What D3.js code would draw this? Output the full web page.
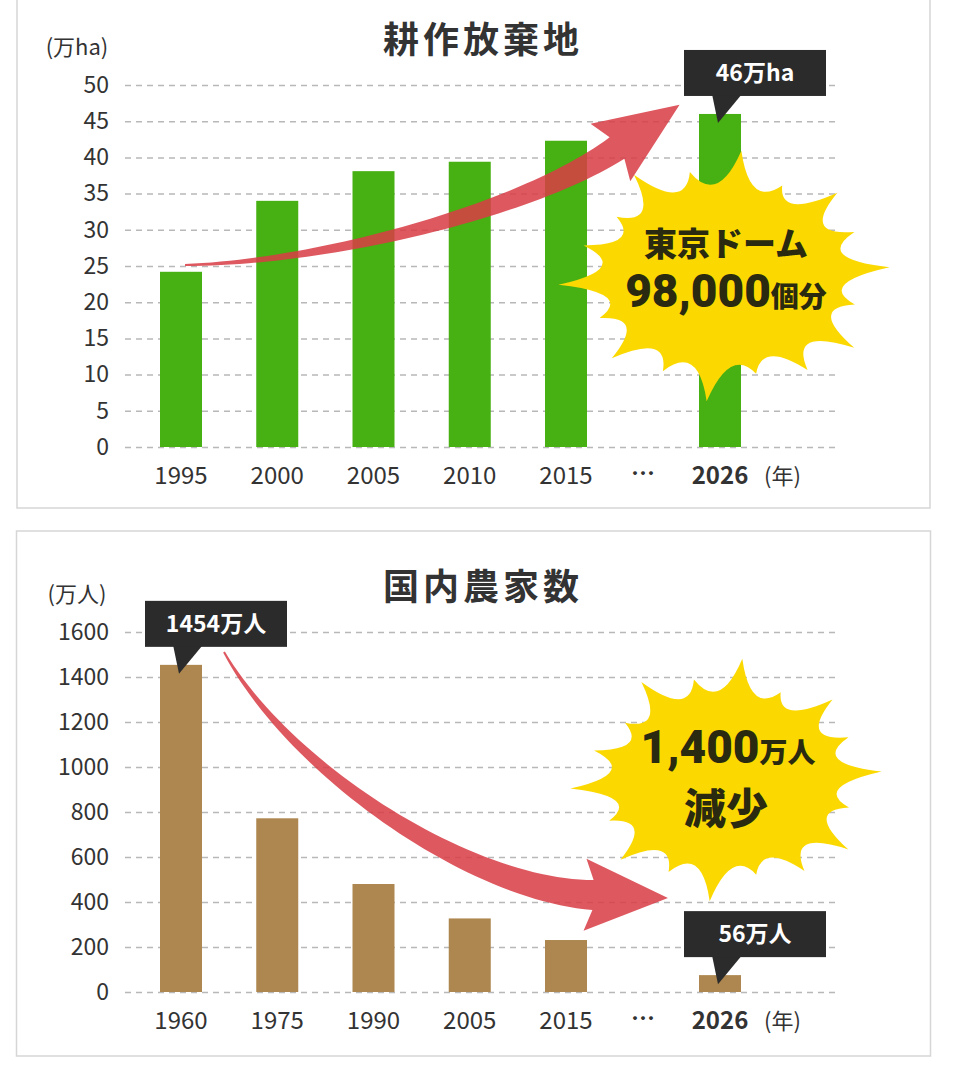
<!DOCTYPE html>
<html>
<head>
<meta charset="utf-8">
<script src="https://cdn.jsdelivr.net/npm/d3@7"></script>
<style>
  body { margin: 0; background: #fff; }
  text { font-family: "Noto Sans CJK JP", "Noto Sans", sans-serif; }
</style>
</head>
<body>
<div id="container"></div>
<script>
// 耕作放棄地 (万ha)
const areaYears = ["1995", "2000", "2005", "2010", "2015", "2026"];
const areaValues = [24.2, 34.0, 38.1, 39.4, 42.3, 46];
const areaTicks = [0, 5, 10, 15, 20, 25, 30, 35, 40, 45, 50];

// 国内農家数 (万人)
const farmYears = ["1960", "1975", "1990", "2005", "2015", "2026"];
const farmValues = [1454, 772, 480, 327, 231, 75];
const farmTicks = [0, 200, 400, 600, 800, 1000, 1200, 1400, 1600];

let w = 961;
let h = 1065;
let gridLeft = 125;
let gridRight = 838;
let barW = 42;

let svg = d3.select("#container")
  .append("svg")
  .attr("width", w)
  .attr("height", h);

// panels
svg.append("rect")
  .attr("x", 17).attr("y", -4).attr("width", 913).attr("height", 512)
  .attr("fill", "#fff").attr("stroke", "#d6d6d6").attr("stroke-width", 1.5);
svg.append("rect")
  .attr("x", 16.5).attr("y", 531).attr("width", 914).attr("height", 525)
  .attr("fill", "#fff").attr("stroke", "#d6d6d6").attr("stroke-width", 1.5);

// x slots: last year sits after the "…" gap
let xSlot = d3.scaleLinear().domain([0, 5.6]).range([181, 720]);
function slotOf(i, n) { return i === n - 1 ? 5.6 : i; }

function drawChart(g, title, unit, years, values, ticks, yMax, top, bottom, color) {
  let y = d3.scaleLinear().domain([0, yMax]).range([bottom, top]);

  g.append("text")
    .attr("x", 483).attr("y", top - 32)
    .attr("text-anchor", "middle")
    .attr("font-size", 36).attr("font-weight", 700)
    .attr("letter-spacing", 4)
    .attr("fill", "#333")
    .text(title);

  g.append("text")
    .attr("x", 77).attr("y", top - 30)
    .attr("text-anchor", "middle")
    .attr("font-size", 22)
    .attr("fill", "#333")
    .text(unit);

  let yAxis = d3.axisLeft(y)
    .tickValues(ticks)
    .tickFormat(d3.format("d"))
    .tickSize(-(gridRight - gridLeft))
    .tickPadding(16);

  let ag = g.append("g")
    .attr("transform", "translate(" + gridLeft + ",0)")
    .call(yAxis);
  ag.select(".domain").remove();
  ag.selectAll(".tick line")
    .attr("stroke", "#b8b8b8")
    .attr("stroke-width", 1.5)
    .attr("stroke-dasharray", "6,5");
  ag.selectAll(".tick text")
    .attr("font-size", 23)
    .attr("fill", "#333")
    .attr("font-family", "\"Noto Sans CJK JP\", sans-serif");

  g.selectAll(".bar").data(values).enter()
    .append("rect")
    .attr("class", "bar")
    .attr("x", (d, i) => xSlot(slotOf(i, values.length)) - barW / 2)
    .attr("y", d => y(d))
    .attr("width", barW)
    .attr("height", d => bottom - y(d))
    .attr("fill", color);

  g.selectAll(".xlabel").data(years).enter()
    .append("text")
    .attr("class", "xlabel")
    .attr("x", (d, i) => xSlot(slotOf(i, years.length)))
    .attr("y", bottom + 37)
    .attr("text-anchor", "middle")
    .attr("font-size", 24)
    .attr("font-weight", (d, i) => i === years.length - 1 ? 700 : 400)
    .attr("fill", "#333")
    .text(d => d);

  g.append("text")
    .attr("x", xSlot(4.8)).attr("y", bottom + 35)
    .attr("text-anchor", "middle")
    .attr("font-size", 24).attr("font-weight", 700)
    .attr("fill", "#333")
    .text("…");

  g.append("text")
    .attr("x", xSlot(5.6) + 44).attr("y", bottom + 37)
    .attr("font-size", 22)
    .attr("fill", "#333")
    .text("(年)");

  return y;
}

function callout(g, cx, barTop, label) {
  let tipY = barTop + 9;
  let boxB = tipY - 27;
  let bx = cx - 36;
  g.append("path")
    .attr("d", "M" + (cx - 8) + "," + (boxB - 2) + "L" + (cx + 22) + "," + (boxB - 2) + "L" + (cx - 2) + "," + tipY + "Z")
    .attr("fill", "#2b2b2b");
  g.append("rect")
    .attr("x", bx).attr("y", boxB - 46)
    .attr("width", 142).attr("height", 46)
    .attr("fill", "#2b2b2b");
  g.append("text")
    .attr("x", bx + 71).attr("y", boxB - 15)
    .attr("text-anchor", "middle")
    .attr("font-size", 23).attr("font-weight", 700)
    .attr("fill", "#fff")
    .text(label);
}

// tapered curved arrow along a cubic bezier
function arrow(g, p0, p1, p2, p3, w0, w1, headLen, headHalf) {
  let left = [], right = [];
  let n = 50;
  for (let k = 0; k <= n; k++) {
    let t = k / n, mt = 1 - t;
    let px = mt*mt*mt*p0[0] + 3*mt*mt*t*p1[0] + 3*mt*t*t*p2[0] + t*t*t*p3[0];
    let py = mt*mt*mt*p0[1] + 3*mt*mt*t*p1[1] + 3*mt*t*t*p2[1] + t*t*t*p3[1];
    let dx = 3*mt*mt*(p1[0]-p0[0]) + 6*mt*t*(p2[0]-p1[0]) + 3*t*t*(p3[0]-p2[0]);
    let dy = 3*mt*mt*(p1[1]-p0[1]) + 6*mt*t*(p2[1]-p1[1]) + 3*t*t*(p3[1]-p2[1]);
    let len = Math.hypot(dx, dy);
    let nx = -dy / len, ny = dx / len;
    let ww = (w0 + (w1 - w0) * Math.pow(t, 1.1)) / 2;
    left.push([px + nx*ww, py + ny*ww]);
    right.push([px - nx*ww, py - ny*ww]);
  }
  let ex = p3[0] - p2[0], ey = p3[1] - p2[1];
  let el = Math.hypot(ex, ey);
  let ux = ex / el, uy = ey / el, nx = -uy, ny = ux;
  let tip = [p3[0] + ux*headLen, p3[1] + uy*headLen];
  let bl = [p3[0] - ux*8 + nx*headHalf, p3[1] - uy*8 + ny*headHalf];
  let br = [p3[0] - ux*8 - nx*headHalf, p3[1] - uy*8 - ny*headHalf];
  let pts = left.concat([bl, tip, br]).concat(right.reverse());
  g.append("path")
    .attr("d", d3.line()(pts) + "Z")
    .attr("fill", "#d93c46")
    .attr("fill-opacity", 0.86);
}

// starburst balloon
let spikeFactors = [1.0, 0.8, 0.95, 0.86, 1.0, 0.82, 0.97, 0.9, 0.8, 1.0, 0.84, 0.94, 0.82, 1.0, 0.88, 0.8, 0.97, 0.85];
function starburst(g, cx, cy, rx, ry, rot) {
  let n = spikeFactors.length;
  let pt = (a, f) => [cx + rx * f * Math.cos(a), cy + ry * f * Math.sin(a)];
  let d = "";
  for (let i = 0; i < n; i++) {
    let a = rot + i * 2 * Math.PI / n;
    let a2 = rot + (i + 1) * 2 * Math.PI / n;
    let p = pt(a, spikeFactors[i]);
    let q = pt(a2, spikeFactors[(i + 1) % n]);
    let c = pt((a + a2) / 2, 0.56);
    if (i === 0) d += "M" + p[0] + "," + p[1];
    d += "Q" + c[0] + "," + c[1] + " " + q[0] + "," + q[1];
  }
  g.append("path").attr("d", d + "Z").attr("fill", "#fbd900");
}

// ---- top chart ----
let topG = svg.append("g");
let yTop = drawChart(topG, "耕作放棄地", "(万ha)", areaYears, areaValues, areaTicks, 50, 85, 447, "#47b012");
arrow(topG, [185, 265], [330, 262], [530, 208], [617, 148], 2, 26, 76, 35);
starburst(topG, 724, 276, 166, 126, -84 * Math.PI / 180);
callout(topG, xSlot(5.6), yTop(areaValues[5]), "46万ha");
topG.append("text")
  .attr("x", 726).attr("y", 256)
  .attr("text-anchor", "middle")
  .attr("font-size", 33).attr("font-weight", 900)
  .attr("fill", "#2a2a10")
  .text("東京ドーム");
let t2 = topG.append("text")
  .attr("x", 726).attr("y", 307)
  .attr("text-anchor", "middle")
  .attr("fill", "#2a2a10")
  .attr("font-weight", 900);
t2.append("tspan").attr("font-size", 46).attr("font-family", "Roboto, sans-serif").text("98,000");
t2.append("tspan").attr("font-size", 28).text("個分");

// ---- bottom chart ----
let botG = svg.append("g");
let yBot = drawChart(botG, "国内農家数", "(万人)", farmYears, farmValues, farmTicks, 1600, 632, 992, "#ad874f");
arrow(botG, [224, 652], [290, 770], [470, 890], [593, 895], 2, 30, 75, 36);
starburst(botG, 726, 780, 156, 122, -84 * Math.PI / 180);
callout(botG, xSlot(0), yBot(farmValues[0]), "1454万人");
callout(botG, xSlot(5.6), yBot(farmValues[5]), "56万人");
let t3 = botG.append("text")
  .attr("x", 728).attr("y", 763)
  .attr("text-anchor", "middle")
  .attr("fill", "#2a2a10")
  .attr("font-weight", 900);
t3.append("tspan").attr("font-size", 46).attr("font-family", "Roboto, sans-serif").text("1,400");
t3.append("tspan").attr("font-size", 28).text("万人");
botG.append("text")
  .attr("x", 726).attr("y", 824)
  .attr("text-anchor", "middle")
  .attr("font-size", 42).attr("font-weight", 900)
  .attr("fill", "#2a2a10")
  .text("減少");
</script>
</body>
</html>
